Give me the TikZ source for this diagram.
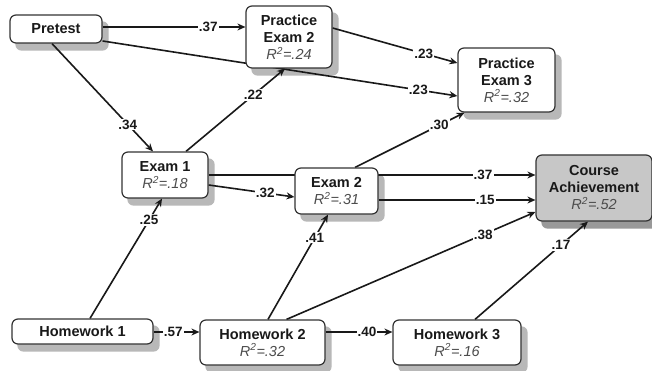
\documentclass[tikz,border=0pt]{standalone}
\usepackage{fontspec}
\setmainfont{Liberation Sans}
\usetikzlibrary{arrows.meta}
\pgfdeclarelayer{background}
\pgfdeclarelayer{edgelayer}
\pgfsetlayers{background,edgelayer,main}
\newcommand\rsqtxt[1]{{\mdseries\itshape\color{black!70}R\textsuperscript{2}=.#1}}
\begin{document}
\begin{tikzpicture}[x=1pt,y=-1pt,
  box/.style={draw=black!80, line width=1.2pt, rounded corners=6pt, fill=white,
    align=center, inner sep=0pt, text=black!90,
    font=\bfseries\fontsize{14.5}{17}\selectfont},
  lbl/.style={fill=white, inner sep=1pt, text=black!90,
    font=\bfseries\fontsize{13.5}{15}\selectfont},
  arr/.style={line width=1.6pt, draw=black!90, -{Stealth[length=8pt,width=7pt]}},
  shad/.style={fill=black!28, rounded corners=6pt},
  ]
\useasboundingbox (0,0) rectangle (652,371);

% nodes
\node[box, minimum width=92pt, minimum height=28pt] (pre) at (56,29) {Pretest};
\node[box, minimum width=86pt, minimum height=62pt] (pe2) at (289,37) {Practice\\Exam 2\\\rsqtxt{24}};
\node[box, minimum width=97pt, minimum height=64pt] (pe3) at (506.5,80) {Practice\\Exam 3\\\rsqtxt{32}};
\node[box, minimum width=86pt, minimum height=46pt] (ex1) at (165,175) {Exam 1\\\rsqtxt{18}};
\node[box, minimum width=83pt, minimum height=46pt] (ex2) at (336.5,191) {Exam 2\\\rsqtxt{31}};
\node[box, fill=black!22, minimum width=116pt, minimum height=66pt] (ca) at (594,188) {Course\\Achievement\\\rsqtxt{52}};
\node[box, minimum width=141pt, minimum height=25pt] (hw1) at (82.5,331.5) {Homework 1};
\node[box, minimum width=125pt, minimum height=45pt] (hw2) at (262.5,342.5) {Homework 2\\\rsqtxt{32}};
\node[box, minimum width=128pt, minimum height=45pt] (hw3) at (457,342.5) {Homework 3\\\rsqtxt{16}};

% background and shadows
\begin{pgfonlayer}{background}
\fill[white] (0,0) rectangle (652,371);
\foreach \n in {pre,pe2,pe3,ex1,ex2,hw1,hw2,hw3}
  \fill[shad] ([shift={(6pt,-7pt)}]\n.south west) rectangle ([shift={(6pt,-7pt)}]\n.north east);
\fill[shad, fill=black!40] ([shift={(6pt,-7pt)}]ca.south west) rectangle ([shift={(6pt,-7pt)}]ca.north east);
\end{pgfonlayer}

% connectors
\begin{pgfonlayer}{edgelayer}
\draw[arr] ([yshift=2pt]pre.east) -- node[lbl, pos=.74] {.37} ([yshift=10pt]pe2.west);
\draw[arr] ([yshift=-12pt]pre.east) -- node[lbl, pos=.89] {.23} ([yshift=-16pt]pe3.west);
\draw[arr] ([yshift=9pt]pe2.east) -- node[lbl, pos=.73] {.23} ([yshift=17pt]pe3.west);
\draw[arr] ([xshift=-4pt]pre.south) -- node[lbl, pos=.75] {.34} ([xshift=-12pt]ex1.north);
\draw[arr] ([xshift=21pt]ex1.north) -- node[lbl, pos=.68] {.22} ([xshift=-4pt]pe2.south);
\draw[arr] ([xshift=18.5pt]ex2.north) -- node[lbl, pos=.77] {.30} ([xshift=-42pt]pe3.south);
\draw[arr] (ex1.east) -- node[lbl, pos=.84] {.37} ([yshift=13pt]ca.west);
\draw[arr] ([yshift=-10pt]ex1.east) -- node[lbl, pos=.66] {.32} ([yshift=-6pt]ex2.west);
\draw[arr] ([yshift=-9pt]ex2.east) -- node[lbl, pos=.68] {.15} ([yshift=-12pt]ca.west);
\draw[arr] ([xshift=24pt]hw2.north) -- node[lbl, pos=.79] {.38} ([yshift=-24pt]ca.west);
\draw[arr] ([xshift=18pt]hw3.north) -- node[lbl, pos=.76] {.17} ([xshift=-6pt]ca.south);
\draw[arr] ([xshift=7.5pt]hw1.north) -- node[lbl, pos=.82] {.25} ([xshift=-3pt]ex1.south);
\draw[arr] ([xshift=5.5pt]hw2.north) -- node[lbl, pos=.78] {.41} ([xshift=-8.5pt]ex2.south);
\draw[arr] ([yshift=-0.5pt]hw1.east) -- node[lbl, pos=.43] {.57} ([yshift=10.5pt]hw2.west);
\draw[arr] ([yshift=10.5pt]hw2.east) -- node[lbl, pos=.62] {.40} ([yshift=10.5pt]hw3.west);
\end{pgfonlayer}
\end{tikzpicture}
\end{document}
